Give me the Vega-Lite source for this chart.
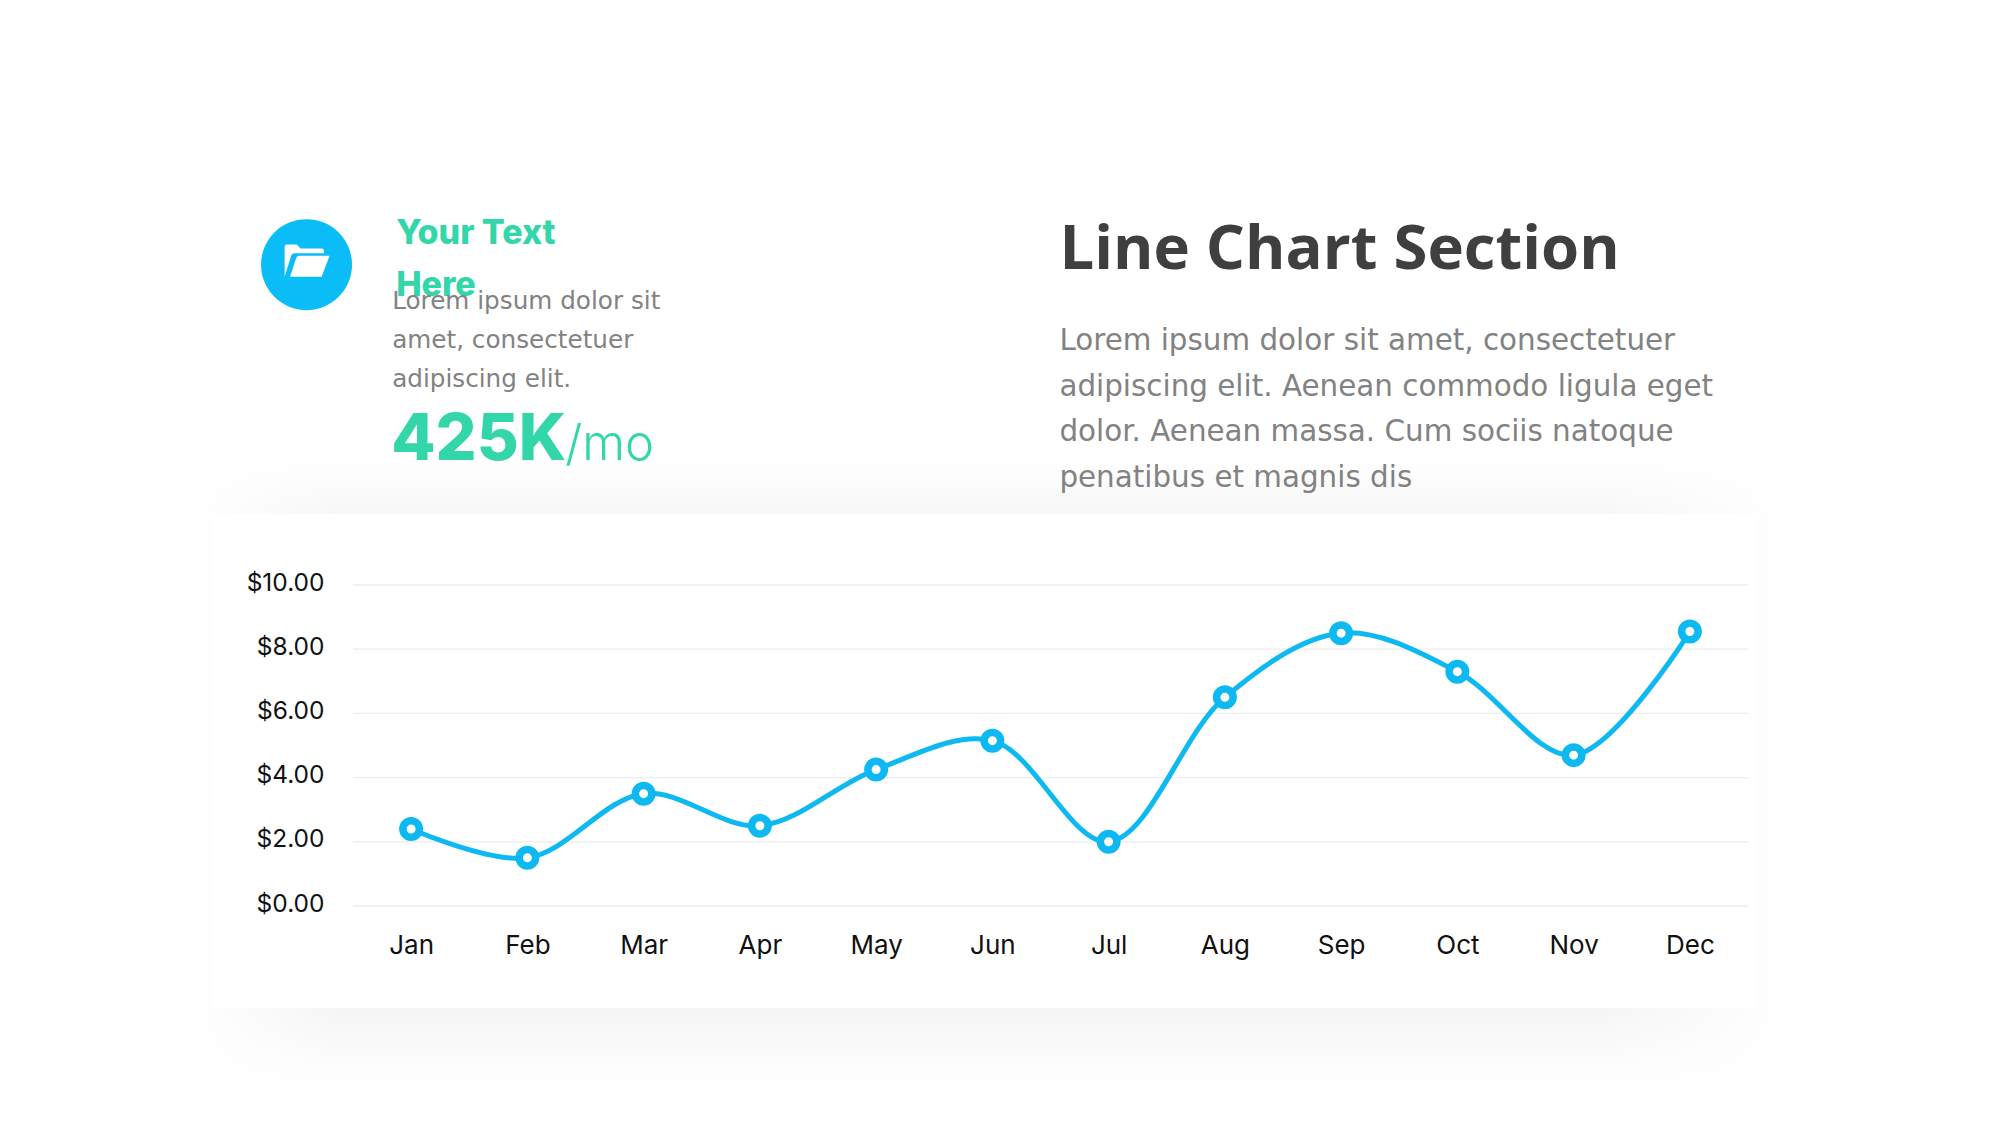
{
"$schema":"https://vega.github.io/schema/vega-lite/v6.json",
"width":1395,"height":321,
"autosize":{"type":"none"},
"padding":{"left":353,"top":585,"right":252,"bottom":219},
"background":"white",
"config":{"view":{"stroke":null}},
"datasets":{"prices":[
{"month":"Jan","price":2.4},{"month":"Feb","price":1.5},{"month":"Mar","price":3.5},{"month":"Apr","price":2.5},{"month":"May","price":4.25},{"month":"Jun","price":5.15},{"month":"Jul","price":2.0},{"month":"Aug","price":6.5},{"month":"Sep","price":8.5},{"month":"Oct","price":7.3},{"month":"Nov","price":4.7},{"month":"Dec","price":8.55}],
"ticks":[{"tick":0},{"tick":2},{"tick":4},{"tick":6},{"tick":8},{"tick":10}]},
"layer":[
{"data":{"values":[{"part":"shadow"}]},"mark":{"type":"rect","fill":"#fefefe","cornerRadius":50,"xOffset":-258,"x2Offset":115},"encoding":{"x":{"datum":"Jan","type":"ordinal"},"x2":{"datum":"Dec"},"y":{"datum":11.5,"type":"quantitative"},"y2":{"datum":-4.8}}},
{"data":{"values":[{"part":"shadow"}]},"mark":{"type":"rect","xOffset":-221,"x2Offset":97,"color":{"gradient":"linear","x1":0,"y1":0,"x2":0,"y2":1,"stops":[{"offset":0,"color":"#ffffff"},{"offset":0.086,"color":"#f7f7f7"},{"offset":0.877,"color":"#f5f5f5"},{"offset":1,"color":"#ffffff"}]}},"encoding":{"x":{"datum":"Jan","type":"ordinal"},"x2":{"datum":"Dec"},"y":{"datum":13.9,"type":"quantitative"},"y2":{"datum":-5.58}}},
{"data":{"values":[{"part":"fade"}]},"mark":{"type":"rect","xOffset":-223,"x2Offset":-71,"color":{"gradient":"linear","x1":0,"y1":0,"x2":1,"y2":0,"stops":[{"offset":0,"color":"rgba(255,255,255,1)"},{"offset":1,"color":"rgba(255,255,255,0)"}]}},"encoding":{"x":{"datum":"Jan","type":"ordinal"},"x2":{"datum":"Jan"},"y":{"datum":14,"type":"quantitative"},"y2":{"datum":-5.75}}},
{"data":{"values":[{"part":"fade"}]},"mark":{"type":"rect","xOffset":-93,"x2Offset":99,"color":{"gradient":"linear","x1":0,"y1":0,"x2":1,"y2":0,"stops":[{"offset":0,"color":"rgba(255,255,255,0)"},{"offset":1,"color":"rgba(255,255,255,1)"}]}},"encoding":{"x":{"datum":"Dec","type":"ordinal"},"x2":{"datum":"Dec"},"y":{"datum":14,"type":"quantitative"},"y2":{"datum":-5.75}}},
{"data":{"values":[{"part":"card"}]},"mark":{"type":"rect","fill":"#ffffff","xOffset":-199,"x2Offset":67},"encoding":{"x":{"datum":"Jan","type":"ordinal"},"x2":{"datum":"Dec"},"y":{"datum":12.21,"type":"quantitative"},"y2":{"datum":-3.18}}},
{"data":{"name":"ticks"},"mark":{"type":"rule","color":"#ededed","strokeWidth":1.3},"encoding":{"y":{"field":"tick","type":"quantitative"}}},
{"data":{"name":"prices"},"mark":{"type":"line","color":"#0DB9F0","strokeWidth":5,"interpolate":"catmull-rom"},"encoding":{
"x":{"field":"month","type":"ordinal","title":null,"scale":{"type":"point","padding":0.5,"domain":["Jan","Feb","Mar","Apr","May","Jun","Jul","Aug","Sep","Oct","Nov","Dec"]},
"axis":{"labelAngle":0,"labelAlign":"center","labelBaseline":"top","domain":false,"ticks":false,"grid":false,"labelFont":"Inter","labelFontSize":26,"labelColor":"#111111","labelPadding":26,"zindex":1}},
"y":{"field":"price","type":"quantitative","title":null,"scale":{"domain":[0,10],"nice":false},
"axis":{"values":[0,2,4,6,8,10],"format":"$.2f","domain":false,"ticks":false,"grid":false,"labelFont":"Inter","labelFontSize":24.5,"labelColor":"#111111","labelPadding":29,"labelOffset":-2,"zindex":1}}}},
{"data":{"name":"prices"},"mark":{"type":"point","filled":false,"shape":"circle","fill":"#ffffff","fillOpacity":1,"stroke":"#0DB9F0","strokeWidth":7.5,"size":272,"opacity":1},"encoding":{"x":{"field":"month","type":"ordinal"},"y":{"field":"price","type":"quantitative"}}},
{"data":{"values":[{"icon":"folder"}]},"mark":{"type":"point","shape":"circle","filled":true,"color":"#0BBDF7","opacity":1,"size":8281,"xOffset":-104.6},"encoding":{"x":{"datum":"Jan","type":"ordinal"},"y":{"datum":19.98,"type":"quantitative"}}},
{"data":{"values":[{"icon":"folder"}]},"mark":{"type":"point","filled":true,"color":"#ffffff","opacity":1,"size":2365,"xOffset":-104.6,"yOffset":-4,"shape":"M-0.9 0.66 L-0.9 -0.56 Q-0.9 -0.66 -0.8 -0.66 L-0.4 -0.66 L-0.25 -0.5 L0.62 -0.5 Q0.72 -0.5 0.72 -0.38 L0.72 -0.3 L-0.5 -0.3 Q-0.6 -0.3 -0.63 -0.2 L-0.9 0.66 Z M-0.68 0.66 L-0.42 -0.12 Q-0.39 -0.2 -0.3 -0.2 L0.95 -0.2 L0.62 0.66 Z"},"encoding":{"x":{"datum":"Jan","type":"ordinal"},"y":{"datum":19.98,"type":"quantitative"}}},
{"data":{"values":[{"label":"Your Text\nHere"}]},"mark":{"type":"text","font":"Inter","fontWeight":800,"fontSize":34,"color":"#33D6A8","align":"left","baseline":"alphabetic","lineBreak":"\n","lineHeight":52,"dx":-15},"encoding":{"x":{"datum":"Jan","type":"ordinal"},"y":{"datum":20.63,"type":"quantitative"},"text":{"field":"label"}}},
{"data":{"values":[{"label":"Lorem ipsum dolor sit\namet, consectetuer\nadipiscing elit."}]},"mark":{"type":"text","font":"DejaVu Sans","fontSize":24.7,"color":"#828282","align":"left","baseline":"alphabetic","lineBreak":"\n","lineHeight":39,"dx":-19},"encoding":{"x":{"datum":"Jan","type":"ordinal"},"y":{"datum":18.61,"type":"quantitative"},"text":{"field":"label"}}},
{"data":{"values":[{"kpi":"425K"}]},"mark":{"type":"text","font":"Inter","fontWeight":800,"fontSize":64.5,"color":"#33D6A8","align":"left","baseline":"alphabetic","dx":-20},"encoding":{"x":{"datum":"Jan","type":"ordinal"},"y":{"datum":13.9,"type":"quantitative"},"text":{"field":"kpi"}}},
{"data":{"values":[{"unit":"/mo"}]},"mark":{"type":"text","font":"Inter","fontWeight":300,"fontSize":49,"color":"#33D6A8","align":"left","baseline":"alphabetic","dx":154},"encoding":{"x":{"datum":"Jan","type":"ordinal"},"y":{"datum":13.9,"type":"quantitative"},"text":{"field":"unit"}}},
{"data":{"values":[{"label":"Line Chart Section"}]},"mark":{"type":"text","font":"Open Sans","fontWeight":700,"fontSize":61.6,"color":"#3F3F3F","align":"left","baseline":"alphabetic","dx":67},"encoding":{"x":{"datum":"Jun","type":"ordinal"},"y":{"datum":19.85,"type":"quantitative"},"text":{"field":"label"}}},
{"data":{"values":[{"label":"Lorem ipsum dolor sit amet, consectetuer\nadipiscing elit. Aenean commodo ligula eget\ndolor. Aenean massa. Cum sociis natoque\npenatibus et magnis dis"}]},"mark":{"type":"text","font":"DejaVu Sans","fontSize":29.4,"color":"#828282","align":"left","baseline":"alphabetic","lineBreak":"\n","lineHeight":45.7,"dx":67},"encoding":{"x":{"datum":"Jun","type":"ordinal"},"y":{"datum":17.32,"type":"quantitative"},"text":{"field":"label"}}}
]
}
